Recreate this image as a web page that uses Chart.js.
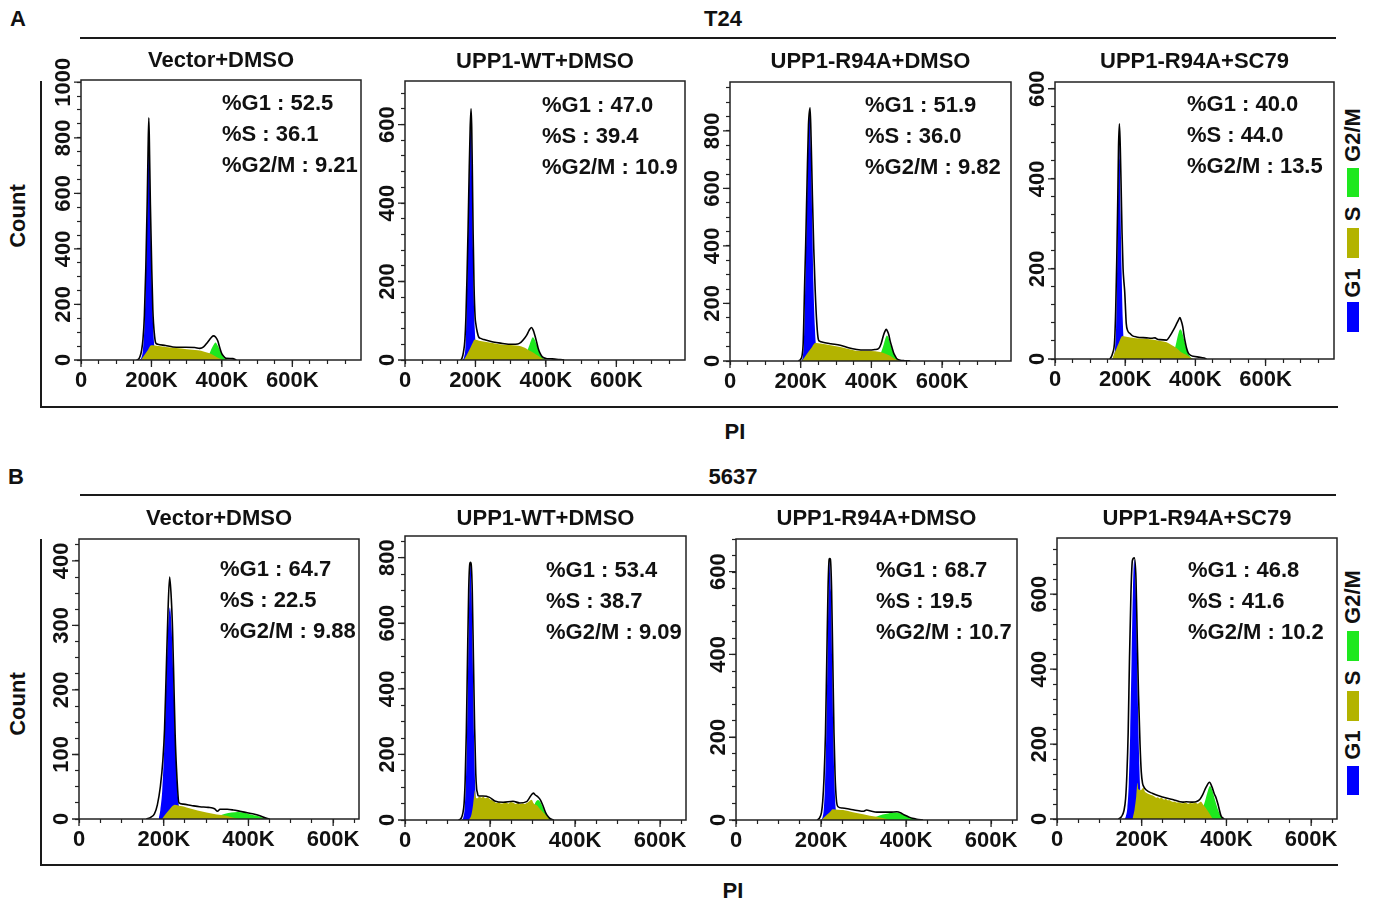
<!DOCTYPE html>
<html>
<head>
<meta charset="utf-8">
<script src="https://cdn.jsdelivr.net/npm/chart.js@4.4.1/dist/chart.umd.min.js"></script>
<style>
  html, body { margin: 0; padding: 0; background: #fff; }
  #page { position: relative; width: 1374px; height: 903px; overflow: hidden;
          font-family: "Liberation Sans", Arial, sans-serif; font-weight: bold; color: #111; }
  .t { position: absolute; transform: translate(-50%, -50%); white-space: nowrap; font-size: 22px; line-height: 1; }
  .r { transform: translate(-50%, -50%) rotate(-90deg); }
  .ln { position: absolute; background: #1a1a1a; }
  .sw { position: absolute; left: 1347px; width: 12px; }
  canvas { position: absolute; }
</style>
</head>
<body>
<div id="page">
  <!-- row A -->
  <div class="t" style="left:18px;top:19px">A</div>
  <div class="t" style="left:723px;top:19px">T24</div>
  <div class="ln" style="left:80px;top:37px;width:1256px;height:2px"></div>
  <div class="ln" style="left:40px;top:81px;width:2px;height:327px"></div>
  <div class="ln" style="left:40px;top:406px;width:1298px;height:2px"></div>
  <div class="t" style="left:735px;top:432px">PI</div>
  <div class="t r" style="left:18px;top:216px">Count</div>
  <div class="t r" style="left:1353px;top:135px">G2/M</div>
  <div class="sw" style="top:168px;height:29px;background:#1ee81e"></div>
  <div class="t r" style="left:1353px;top:214px">S</div>
  <div class="sw" style="top:228px;height:30px;background:#b3b300"></div>
  <div class="t r" style="left:1353px;top:283px">G1</div>
  <div class="sw" style="top:302px;height:30px;background:#0000ff"></div>

  <!-- row B -->
  <div class="t" style="left:16px;top:477px">B</div>
  <div class="t" style="left:733px;top:477px">5637</div>
  <div class="ln" style="left:80px;top:494px;width:1256px;height:2px"></div>
  <div class="ln" style="left:40px;top:539px;width:2px;height:327px"></div>
  <div class="ln" style="left:40px;top:864px;width:1298px;height:2px"></div>
  <div class="t" style="left:733px;top:891px">PI</div>
  <div class="t r" style="left:18px;top:704px">Count</div>
  <div class="t r" style="left:1353px;top:597px">G2/M</div>
  <div class="sw" style="top:631px;height:30px;background:#1ee81e"></div>
  <div class="t r" style="left:1353px;top:678px">S</div>
  <div class="sw" style="top:691px;height:30px;background:#b3b300"></div>
  <div class="t r" style="left:1353px;top:745px">G1</div>
  <div class="sw" style="top:766px;height:29px;background:#0000ff"></div>
</div>

<script>
// panel titles and cycle percentages (A1..A4, B1..B4)
const panelTitles = ['Vector+DMSO', 'UPP1-WT+DMSO', 'UPP1-R94A+DMSO', 'UPP1-R94A+SC79'];
const g1Pct = ['52.5', '47.0', '51.9', '40.0', '64.7', '53.4', '68.7', '46.8'];
const sPct  = ['36.1', '39.4', '36.0', '44.0', '22.5', '38.7', '19.5', '41.6'];
const g2Pct = ['9.21', '10.9', '9.82', '13.5', '9.88', '9.09', '10.7', '10.2'];

// x ticks (PI, in K)
const xTickValues = [0, 200, 400, 600];
const xTickLabels = ['0', '200K', '400K', '600K'];

// y tick labels per panel
const yLabelsA1 = [0, 200, 400, 600, 800, 1000];
const yLabelsA2 = [0, 200, 400, 600];
const yLabelsA3 = [0, 200, 400, 600, 800];
const yLabelsA4 = [0, 200, 400, 600];
const yLabelsB1 = [0, 100, 200, 300, 400];
const yLabelsB2 = [0, 200, 400, 600, 800];
const yLabelsB3 = [0, 200, 400, 600];
const yLabelsB4 = [0, 200, 400, 600];

// ---- T24 : Vector+DMSO ----
const a1G1 = [[166,0],[172,10],[176,38],[180,116],[184,280],[188,522],[190.5,700],[192.6,860],[194.7,700],[197,522],[201,280],[205,116],[209,38],[213,10],[218,0]];
const a1S  = [[170,0],[180,18],[190,36],[199,53],[210,52],[240,47],[270,43],[300,39],[332,35],[350,30],[365,24],[380,14],[392,6],[403,0]];
const a1G2 = [[345,0],[355,5],[365,24],[372,44],[378,58],[382,63],[386,57],[390,48],[395,33],[400,20],[405,10],[410,4],[416,0]];
const a1Total = [[158,0],[164,4],[168,14],[172,35],[176,75],[180,160],[184,330],[188,570],[190.5,760],[192.6,872],[194.7,740],[197,560],[201,320],[204,180],[206,130],[209,85],[212,62],[218,57],[240,52],[261,47],[290,46],[323,45],[337,42],[348,47],[360,65],[370,81],[376,87],[382,83],[388,70],[394,44],[400,22],[406,12],[412,6],[431,5],[441,0]];

// ---- T24 : UPP1-WT+DMSO ----
const a2G1 = [[163,0],[168,8],[172,40],[175,130],[178,260],[181,400],[184,540],[186,610],[187.5,632],[189,560],[191,420],[193,280],[195,170],[198,80],[202,25],[207,5],[212,0]];
const a2S  = [[167,0],[176,14],[186,32],[193,45],[198,52],[210,49],[235,45],[262,41],[300,38],[329,35],[340,31],[348,27],[360,21],[372,14],[386,6],[398,0]];
const a2G2 = [[325,0],[335,5],[345,18],[352,35],[358,50],[363,58],[368,52],[374,38],[380,22],[387,9],[395,3],[402,0]];
const a2Total = [[158,0],[162,5],[166,20],[170,51],[173,110],[176,210],[179,330],[182,470],[185,590],[187.5,640],[189.5,590],[191.5,460],[193.5,320],[196,190],[199,110],[201,93],[205,72],[209,59],[215,55],[224,52],[250,46],[271,43],[305,40],[320,41],[329,45],[340,56],[346,64],[352,75],[359,83],[364,76],[369,62],[374,45],[378,30],[384,16],[390,8],[400,4],[414,3],[430,2],[440,1],[452,0]];

// ---- T24 : UPP1-R94A+DMSO ----
const a3G1 = [[202,0],[206,15],[209,60],[211.5,180],[214,330],[218,560],[222,780],[225,860],[228.8,740],[232.6,500],[236,270],[240,120],[244,40],[248,12],[252,0]];
const a3S  = [[203,0],[215,20],[230,45],[241,63],[250,62],[280,56],[312,49],[335,42],[359,36],[397,35],[425,31],[440,25],[453,18],[466,8],[482,0]];
const a3G2 = [[400,0],[410,4],[420,14],[428,32],[435,58],[440,80],[444,89],[448,82],[453,62],[460,35],[467,16],[474,6],[482,0]];
const a3Total = [[194,0],[200,6],[204,20],[207,60],[209,150],[211,260],[214,400],[218,620],[222,820],[226.6,880],[229.5,770],[233,580],[237,390],[241,246],[245.6,130],[250,75],[255,68],[260,66],[285,60],[312,55],[335,46],[359,40],[380,38],[397,38],[410,40],[420,43],[428,62],[434,89],[438,102],[442,110],[446,102],[449,92],[453,70],[458,48],[463,28],[467,18],[472,8],[485,2],[494,1],[510,0]];

// ---- T24 : UPP1-R94A+SC79 ----
const a4G1 = [[163,0],[168,6],[171,22],[174,68],[176,150],[179,300],[181,430],[183,505],[185,440],[187,320],[190,190],[193,90],[196,35],[200,10],[205,0]];
const a4S  = [[163,0],[172,18],[182,36],[192,51],[200,50],[230,46],[270,44],[300,40],[318,37],[332,31],[347,24],[360,15],[375,9],[385,4],[394,0]];
const a4G2 = [[320,0],[330,6],[340,20],[346,38],[351,55],[357,66],[362,60],[368,42],[374,24],[380,11],[386,4],[392,0]];
const a4Total = [[156,0],[160,4],[164,12],[168,25],[170,42],[173,110],[176,220],[179,360],[181,470],[183.5,522],[186,470],[188.5,380],[191,280],[194,200],[196.5,170],[198.6,150],[201,110],[203,79],[207,63],[213,57],[220,52],[232,49],[261,47],[275,46],[285,47],[292,44],[299,43],[318,42],[325,48],[332,57],[340,68],[347,79],[352,87],[356,92],[360,84],[364,72],[367,56],[370,42],[375,24],[380,13],[387,8],[394,6],[413,4],[425,2],[432,0]];

// ---- 5637 : Vector+DMSO ----
const b1G1 = [[188,0],[192,14],[196.5,44],[201,106],[205.5,199],[210,290],[214.5,328],[219,290],[223.5,199],[228,106],[232.5,44],[237,14],[241,0]];
const b1S  = [[196,0],[205,8],[215,16],[226,22],[240,20],[254,18],[280,13],[301,10],[325,7],[348,5],[365,2],[380,0]];
const b1G2 = [[300,0],[315,2],[330,5],[345,8],[360,10],[375,11],[390,10],[405,7],[420,5],[435,2],[448,0]];
const b1Total = [[159,0],[170,3],[178,8],[185,22],[192,50],[198,91],[202,140],[206,230],[210,320],[214,375],[218,340],[221,290],[224,210],[227,130],[230,80],[236,25],[246,23],[265,21],[285,19],[305,18],[320,16],[327,12],[333,15],[350,15],[364,14],[380,12],[395,10],[410,8],[427,5],[443,1],[450,0]];

// ---- 5637 : UPP1-WT+DMSO ----
const b2G1 = [[134,0],[137.5,9],[140.3,34],[143,106],[145.8,254],[148.5,475],[151.3,691],[154,783],[156.7,691],[159.5,475],[162.3,254],[165,106],[167.8,34],[170.5,9],[174,0]];
const b2S  = [[150,0],[156,15],[160,45],[163,80],[164.5,91],[166,72],[170,66],[175,72],[180,68],[184,71],[189,66],[194,69],[199,64],[205,60],[211,55],[216,52],[221,55],[226,50],[231,51],[237,54],[243,50],[249,55],[254,53],[260,49],[266,52],[270,48],[276,51],[281,49],[286,52],[291,56],[295,60],[298,62],[302,52],[306,47],[310,45],[316,36],[321,29],[326,22],[333,12],[341,0]];
const b2G2 = [[285,0],[292,10],[298,25],[304,45],[309,58],[313,61],[318,55],[324,40],[330,22],[336,9],[342,2],[346,0]];
const b2Total = [[126,0],[132,5],[136,20],[139,50],[141.5,120],[144.3,270],[147,490],[149.8,700],[152.5,782],[154,786],[155.5,782],[158.2,700],[161,490],[163.8,280],[166.5,140],[168.5,95],[170,85],[172,74],[183,73],[199,69],[211,58],[231,54],[254,57],[270,52],[286,56],[292,66],[298,78],[302,82],[306,77],[313,70],[319,60],[325,42],[331,22],[337,10],[343,3],[350,0]];

// ---- 5637 : UPP1-R94A+DMSO ----
const b3G1 = [[200,0],[203.8,7],[206.6,27],[209.4,85],[212.2,203],[215,380],[217.8,552],[220.6,626],[223.4,552],[226.2,380],[229,203],[231.8,85],[234.6,27],[237.4,7],[241,0]];
const b3S  = [[201,0],[210,9],[220,18],[228,26],[240,25],[252,24],[275,19],[299,14],[315,10],[331,8],[347,4],[362,0]];
const b3G2 = [[300,0],[315,3],[330,8],[345,13],[358,16],[370,18],[383,17],[395,12],[408,7],[420,3],[432,1],[440,0]];
const b3Total = [[191,0],[197,6],[201,18],[204,45],[207,100],[210.5,210],[213.5,385],[216.5,560],[219.2,630],[220.6,632],[222,630],[224.8,560],[227.7,385],[230.5,210],[233,110],[236,50],[240,32],[250,29],[268,26],[285,23],[299,21],[307,24],[319,21],[331,19],[347,19],[363,19],[378,20],[388,17],[396,12],[405,8],[415,4],[425,2],[440,0]];

// ---- 5637 : UPP1-R94A+SC79 ----
const b4G1 = [[159,0],[162.8,8],[166.1,30],[169.4,94],[172.7,225],[176,421],[179.3,612],[182.6,693],[185.9,612],[189.2,421],[192.5,225],[195.8,94],[199.1,30],[202.4,8],[206,0]];
const b4S  = [[178,0],[183,25],[187,60],[190,97],[192,80],[195,78],[198,77],[201,80],[204,84],[207,74],[211,70],[214,68],[218,66],[222,64],[226,63],[230,60],[234,57],[238,58],[242,55],[246,57],[249,55],[253,52],[257,54],[261,50],[265,51],[269,48],[273,46],[278,47],[282,44],[286,45],[291,43],[297,42],[303,44],[309,41],[315,43],[320,42],[326,44],[332,41],[337,45],[340,46],[344,40],[348,34],[352,28],[358,18],[363,9],[368,0]];
const b4G2 = [[325,0],[335,8],[343,25],[350,50],[356,75],[361,88],[366,78],[372,55],[378,32],[384,14],[390,4],[396,0]];
const b4Total = [[145,0],[152,6],[158,22],[162,55],[165,120],[168,230],[171,420],[174.5,600],[178,690],[182.6,697],[186.5,640],[189.5,480],[192.5,330],[196,200],[199,125],[202,95],[205,86],[210,78],[226,68],[249,59],[273,52],[297,45],[305,46],[320,45],[328,46],[337,52],[344,65],[352,85],[360,98],[366,85],[371,68],[376,55],[381,35],[387,9],[391,3],[395,0]];

const BLUE = '#0000ff', OLIVE = '#b3b300', GREEN = '#1ee81e';

// layout of each panel: plot box [left, top, right, bottom] on the page, axis ranges, text offsets
const panels = [
    { box: [81, 80, 361, 360],    xMax: 795, yMax: 1008, yStep: 50, yLabels: yLabelsA1, titleUp: 19.5, statsAt: [141, 24], g1: a1G1, s: a1S, g2: a1G2, total: a1Total },
    { box: [405, 81, 685, 360],   xMax: 795, yMax: 711,  yStep: 40, yLabels: yLabelsA2, titleUp: 19.5, statsAt: [137, 25], g1: a2G1, s: a2S, g2: a2G2, total: a2Total },
    { box: [730, 82, 1011, 361],  xMax: 795, yMax: 970,  yStep: 50, yLabels: yLabelsA3, titleUp: 20.5, statsAt: [135, 24], g1: a3G1, s: a3S, g2: a3G2, total: a3Total },
    { box: [1055, 82, 1334, 359], xMax: 795, yMax: 615,  yStep: 40, yLabels: yLabelsA4, titleUp: 20.5, statsAt: [132, 23], g1: a4G1, s: a4S, g2: a4G2, total: a4Total },
    { box: [79, 539, 359, 819],   xMax: 661, yMax: 434,  yStep: 25, yLabels: yLabelsB1, titleUp: 20.5, statsAt: [141, 31], g1: b1G1, s: b1S, g2: b1G2, total: b1Total },
    { box: [405, 536, 686, 820],  xMax: 661, yMax: 866,  yStep: 50, yLabels: yLabelsB2, titleUp: 17.5, statsAt: [141, 35], g1: b2G1, s: b2S, g2: b2G2, total: b2Total },
    { box: [736, 539, 1017, 820], xMax: 661, yMax: 679,  yStep: 40, yLabels: yLabelsB3, titleUp: 20.5, statsAt: [140, 32], g1: b3G1, s: b3S, g2: b3G2, total: b3Total },
    { box: [1057, 538, 1337, 819],xMax: 661, yMax: 750,  yStep: 40, yLabels: yLabelsB4, titleUp: 19.5, statsAt: [131, 33], g1: b4G1, s: b4S, g2: b4G2, total: b4Total }
];

const FONT = 'bold 22px "Liberation Sans", Arial, sans-serif';

// draws frame, longer major ticks, panel title, tick labels and the percentages
const panelText = {
    id: 'panelText',
    afterDraw(chart, args, opts) {
        const { ctx, chartArea: a, scales } = chart;
        ctx.save();
        ctx.strokeStyle = '#222';
        ctx.lineWidth = 1.5;
        ctx.strokeRect(a.left, a.top, a.right - a.left, a.bottom - a.top);

        ctx.lineWidth = 1.3;
        ctx.beginPath();
        xTickValues.forEach(v => {
            const x = scales.x.getPixelForValue(v);
            ctx.moveTo(x, a.bottom);
            ctx.lineTo(x, a.bottom + 7);
        });
        opts.yLabels.forEach(v => {
            const y = scales.y.getPixelForValue(v);
            ctx.moveTo(a.left, y);
            ctx.lineTo(a.left - 7, y);
        });
        ctx.stroke();

        ctx.fillStyle = '#111';
        ctx.font = FONT;
        ctx.textAlign = 'center';
        ctx.textBaseline = 'middle';
        ctx.fillText(opts.title, (a.left + a.right) / 2, a.top - opts.titleUp);

        xTickValues.forEach((v, i) => {
            ctx.fillText(xTickLabels[i], scales.x.getPixelForValue(v), a.bottom + 21);
        });

        opts.yLabels.forEach(v => {
            const y = scales.y.getPixelForValue(v);
            ctx.save();
            ctx.translate(a.left - 17, y);
            ctx.rotate(-Math.PI / 2);
            ctx.fillText(String(v), 0, 0);
            ctx.restore();
        });

        ctx.textAlign = 'left';
        opts.stats.forEach((s, i) => {
            ctx.fillText(s, a.left + opts.statsAt[0], a.top + opts.statsAt[1] + i * 31);
        });
        ctx.restore();
    }
};

function toPoints(arr) {
    return arr.map(d => ({ x: d[0], y: d[1] }));
}

function area(label, arr, color) {
    return {
        label: label,
        data: toPoints(arr),
        backgroundColor: color,
        borderWidth: 0,
        fill: 'origin',
        pointRadius: 0,
        cubicInterpolationMode: 'monotone'
    };
}

const page = document.getElementById('page');

panels.forEach(function (p, i) {
    const [L, T, R, B] = p.box;
    const w = R - L + 75, h = B - T + 85;
    const cv = document.createElement('canvas');
    cv.width = w;
    cv.height = h;
    cv.style.left = (L - 60) + 'px';
    cv.style.top = (T - 45) + 'px';
    cv.style.width = w + 'px';
    cv.style.height = h + 'px';
    page.appendChild(cv);

    const axisGrid = { display: true, drawOnChartArea: false, drawTicks: true, tickLength: 4, tickColor: '#222', tickWidth: 1.2 };

    new Chart(cv.getContext('2d'), {
        type: 'line',
        data: {
            // first dataset is drawn on top
            datasets: [
                { label: 'Total', data: toPoints(p.total), borderColor: '#000', borderWidth: 1.6, fill: false, pointRadius: 0, cubicInterpolationMode: 'monotone' },
                area('S', p.s, OLIVE),
                area('G2/M', p.g2, GREEN),
                area('G1', p.g1, BLUE)
            ]
        },
        options: {
            responsive: false,
            animation: false,
            devicePixelRatio: 1,
            events: [],
            layout: { padding: { left: 56, top: 45, right: 15, bottom: 36 } },
            plugins: {
                legend: { display: false },
                tooltip: { enabled: false },
                panelText: {
                    title: panelTitles[i % 4],
                    titleUp: p.titleUp,
                    yLabels: p.yLabels,
                    statsAt: p.statsAt,
                    stats: ['%G1 : ' + g1Pct[i], '%S : ' + sPct[i], '%G2/M : ' + g2Pct[i]]
                }
            },
            scales: {
                x: {
                    type: 'linear', min: 0, max: p.xMax,
                    grid: axisGrid, border: { display: false },
                    ticks: { display: false, stepSize: 50, includeBounds: false }
                },
                y: {
                    type: 'linear', min: 0, max: p.yMax,
                    grid: axisGrid, border: { display: false },
                    ticks: { display: false, stepSize: p.yStep, includeBounds: false }
                }
            }
        },
        plugins: [panelText]
    });
});
</script>
</body>
</html>
